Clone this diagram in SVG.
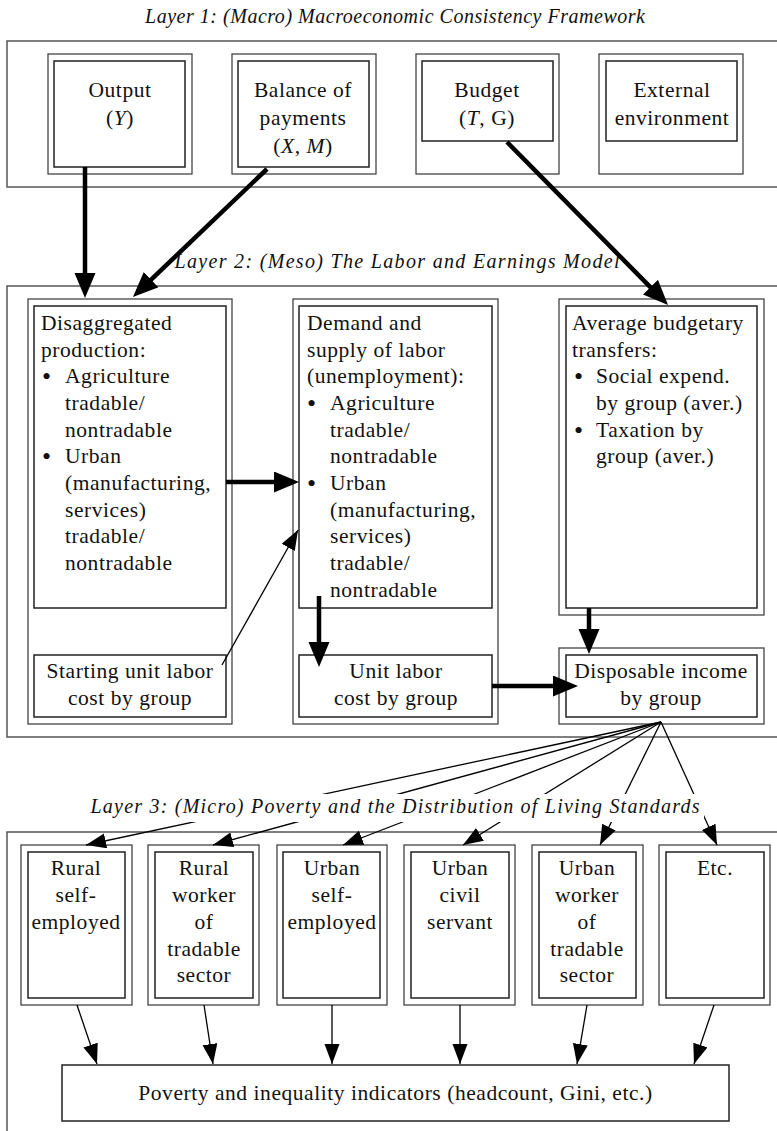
<svg xmlns="http://www.w3.org/2000/svg" width="777" height="1131" viewBox="0 0 777 1131">
<style>
.bg{fill:#fff}
.layer{fill:none;stroke:#555;stroke-width:1.5}
.o{fill:#fff;stroke:#444;stroke-width:1.3}
.i{fill:none;stroke:#222;stroke-width:1.5}
.t{font-family:"Liberation Serif","Times New Roman",serif;font-size:21.5px;fill:#111;letter-spacing:0.55px}
.b{font-family:"Liberation Serif","Times New Roman",serif;font-size:26px;fill:#111}
.c{text-anchor:middle}
.title{font-family:"Liberation Serif","Times New Roman",serif;font-size:20px;font-style:italic;fill:#111}
.it{font-style:italic}
.thick{stroke:#000;stroke-width:4.5;fill:none;marker-end:url(#ah)}
.thin{stroke:#000;stroke-width:1.3;fill:none;marker-end:url(#at)}
</style>
<defs>
<marker id="ah" markerUnits="userSpaceOnUse" markerWidth="26" markerHeight="22" refX="10" refY="10.5" orient="auto"><path d="M0,0 L25,10.5 L0,21 Z" fill="#000"/></marker>
<marker id="at" markerUnits="userSpaceOnUse" markerWidth="21" markerHeight="16" refX="20" refY="7.5" orient="auto"><path d="M0,0 L20,7.5 L0,15 Z" fill="#000"/></marker>
</defs>
<rect class="bg" x="0" y="0" width="777" height="1131"/>

<!-- Layer frames and titles -->
<g id="layer1">
<text class="title c" x="395" y="23" textLength="500" lengthAdjust="spacing">Layer 1: (Macro) Macroeconomic Consistency Framework</text>
<rect class="layer" x="7" y="41" width="800" height="146"/>
</g>
<g id="layer2">
<text class="title c" x="397" y="268" textLength="445" lengthAdjust="spacing">Layer 2: (Meso) The Labor and Earnings Model</text>
<rect class="layer" x="7" y="286" width="800" height="451"/>
</g>
<g id="layer3frame">
<rect class="layer" x="7" y="832" width="800" height="320"/>
</g>

<!-- Layer 1 nodes -->
<g id="output">
<rect class="o" x="48" y="54" width="144" height="120"/>
<rect class="i" x="54" y="61" width="131" height="106"/>
<text class="t c" x="120" y="97">Output</text>
<text class="t c" x="120" y="125">(<tspan class="it">Y</tspan>)</text>
</g>
<g id="bop">
<rect class="o" x="232" y="54" width="144" height="120"/>
<rect class="i" x="238" y="61" width="131" height="106"/>
<text class="t c" x="303" y="97">Balance of</text>
<text class="t c" x="303" y="125">payments</text>
<text class="t c" x="303" y="153">(<tspan class="it">X</tspan>, <tspan class="it">M</tspan>)</text>
</g>
<g id="budget">
<rect class="o" x="416" y="54" width="143" height="120"/>
<rect class="i" x="422" y="61" width="131" height="80"/>
<text class="t c" x="487" y="97">Budget</text>
<text class="t c" x="487" y="125">(<tspan class="it">T</tspan>, G)</text>
</g>
<g id="external">
<rect class="o" x="599" y="54" width="144" height="120"/>
<rect class="i" x="606" y="61" width="131" height="80"/>
<text class="t c" x="672" y="97">External</text>
<text class="t c" x="672" y="125">environment</text>
</g>

<!-- Layer 2 nodes -->
<g id="production">
<rect class="o" x="28" y="299" width="204" height="425"/>
<rect class="i" x="34" y="306" width="192" height="302"/>
<text class="t" x="41" y="330">Disaggregated</text>
<text class="t" x="41" y="357">production:</text>
<text class="b" x="42" y="385">•</text><text class="t" x="65" y="383">Agriculture</text>
<text class="t" x="65" y="410">tradable/</text>
<text class="t" x="65" y="437">nontradable</text>
<text class="b" x="42" y="465">•</text><text class="t" x="65" y="463">Urban</text>
<text class="t" x="65" y="490">(manufacturing,</text>
<text class="t" x="65" y="517">services)</text>
<text class="t" x="65" y="543">tradable/</text>
<text class="t" x="65" y="570">nontradable</text>
</g>
<g id="starting">
<rect class="i" x="34" y="655" width="192" height="62"/>
<text class="t c" x="130" y="678">Starting unit labor</text>
<text class="t c" x="130" y="705">cost by group</text>
</g>
<g id="labor">
<rect class="o" x="293" y="299" width="205" height="425"/>
<rect class="i" x="299" y="306" width="193" height="302"/>
<text class="t" x="307" y="330">Demand and</text>
<text class="t" x="307" y="357">supply of labor</text>
<text class="t" x="307" y="383">(unemployment):</text>
<text class="b" x="307" y="412">•</text><text class="t" x="330" y="410">Agriculture</text>
<text class="t" x="330" y="437">tradable/</text>
<text class="t" x="330" y="463">nontradable</text>
<text class="b" x="307" y="492">•</text><text class="t" x="330" y="490">Urban</text>
<text class="t" x="330" y="517">(manufacturing,</text>
<text class="t" x="330" y="543">services)</text>
<text class="t" x="330" y="570">tradable/</text>
<text class="t" x="330" y="597">nontradable</text>
</g>
<g id="unitcost">
<rect class="i" x="299" y="655" width="193" height="62"/>
<text class="t c" x="396" y="678">Unit labor</text>
<text class="t c" x="396" y="705">cost by group</text>
</g>
<g id="transfers">
<rect class="o" x="559" y="299" width="205" height="316"/>
<rect class="i" x="566" y="306" width="191" height="302"/>
<text class="t" x="572" y="330">Average budgetary</text>
<text class="t" x="572" y="357">transfers:</text>
<text class="b" x="574" y="385">•</text><text class="t" x="596" y="383">Social expend.</text>
<text class="t" x="596" y="410">by group (aver.)</text>
<text class="b" x="574" y="439">•</text><text class="t" x="596" y="437">Taxation by</text>
<text class="t" x="596" y="463">group (aver.)</text>
</g>
<g id="disposable">
<rect class="o" x="559" y="648" width="205" height="76"/>
<rect class="i" x="566" y="655" width="191" height="62"/>
<text class="t c" x="661" y="678">Disposable income</text>
<text class="t c" x="661" y="705">by group</text>
</g>

<!-- Layer 3 nodes -->
<g id="g1">
<rect class="o" x="21" y="845" width="111" height="160"/>
<rect class="i" x="28" y="852" width="97" height="146"/>
<text class="t c" x="76" y="875">Rural</text>
<text class="t c" x="76" y="902">self-</text>
<text class="t c" x="76" y="929">employed</text>
</g>
<g id="g2">
<rect class="o" x="148" y="845" width="111" height="160"/>
<rect class="i" x="155" y="852" width="98" height="146"/>
<text class="t c" x="204" y="875">Rural</text>
<text class="t c" x="204" y="902">worker</text>
<text class="t c" x="204" y="929">of</text>
<text class="t c" x="204" y="956">tradable</text>
<text class="t c" x="204" y="982">sector</text>
</g>
<g id="g3">
<rect class="o" x="277" y="845" width="110" height="160"/>
<rect class="i" x="283" y="852" width="97" height="146"/>
<text class="t c" x="332" y="875">Urban</text>
<text class="t c" x="332" y="902">self-</text>
<text class="t c" x="332" y="929">employed</text>
</g>
<g id="g4">
<rect class="o" x="404" y="845" width="111" height="160"/>
<rect class="i" x="411" y="852" width="98" height="146"/>
<text class="t c" x="460" y="875">Urban</text>
<text class="t c" x="460" y="902">civil</text>
<text class="t c" x="460" y="929">servant</text>
</g>
<g id="g5">
<rect class="o" x="532" y="845" width="111" height="160"/>
<rect class="i" x="539" y="852" width="97" height="146"/>
<text class="t c" x="587" y="875">Urban</text>
<text class="t c" x="587" y="902">worker</text>
<text class="t c" x="587" y="929">of</text>
<text class="t c" x="587" y="956">tradable</text>
<text class="t c" x="587" y="982">sector</text>
</g>
<g id="g6">
<rect class="o" x="659" y="845" width="111" height="160"/>
<rect class="i" x="666" y="852" width="98" height="146"/>
<text class="t c" x="715" y="875">Etc.</text>
</g>
<g id="indicators">
<rect class="i" x="62" y="1065" width="667" height="56" fill="#fff"/>
<text class="t c" x="395.5" y="1100">Poverty and inequality indicators (headcount, Gini, etc.)</text>
</g>

<!-- Connectors -->
<g id="connectors">
<line class="thick" x1="85" y1="167" x2="85" y2="283"/>
<line class="thick" x1="267" y1="169" x2="143.8" y2="286.6"/>
<line class="thick" x1="507" y1="142" x2="657.5" y2="294.3"/>
<line class="thick" x1="226" y1="482" x2="284" y2="482"/>
<line class="thick" x1="319" y1="596" x2="319" y2="652"/>
<line class="thick" x1="589" y1="608" x2="589" y2="639"/>
<line class="thick" x1="492" y1="686" x2="563" y2="686"/>
<line class="thin" x1="222" y1="665" x2="298" y2="530"/>
<line class="thin" x1="661" y1="722" x2="86" y2="845"/>
<line class="thin" x1="661" y1="722" x2="213" y2="845"/>
<line class="thin" x1="661" y1="722" x2="343" y2="845"/>
<line class="thin" x1="661" y1="722" x2="463" y2="845"/>
<line class="thin" x1="661" y1="722" x2="600" y2="845"/>
<line class="thin" x1="661" y1="722" x2="717" y2="845"/>
<line class="thin" x1="77" y1="1005" x2="97" y2="1064"/>
<line class="thin" x1="204" y1="1005" x2="213" y2="1064"/>
<line class="thin" x1="332" y1="1005" x2="332" y2="1064"/>
<line class="thin" x1="460" y1="1005" x2="460" y2="1064"/>
<line class="thin" x1="587" y1="1005" x2="577" y2="1064"/>
<line class="thin" x1="714" y1="1005" x2="694" y2="1064"/>
</g>

<g id="layer3title">
<rect x="88" y="794" width="616" height="28" fill="#fff"/>
<text class="title c" x="395" y="813" textLength="609" lengthAdjust="spacing">Layer 3: (Micro) Poverty and the Distribution of Living Standards</text>
</g>
</svg>
